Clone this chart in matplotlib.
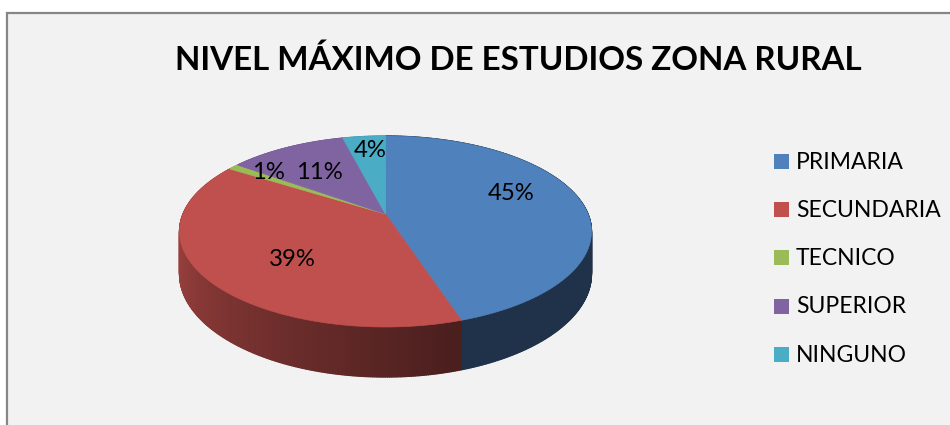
import numpy as np
import matplotlib
matplotlib.use("Agg")
import matplotlib.pyplot as plt
from matplotlib.patches import Polygon, Rectangle
from matplotlib.collections import PolyCollection
from matplotlib.colors import to_rgb

# ---- data ----
title = "NIVEL MÁXIMO DE ESTUDIOS ZONA RURAL"
categories = ["PRIMARIA", "SECUNDARIA", "TECNICO", "SUPERIOR", "NINGUNO"]
values = [45, 39, 1, 11, 4]
labels = ["45%", "39%", "1%", "11%", "4%"]
colors = ["#4F81BD", "#C0504D", "#9BBB59", "#8064A2", "#4BACC6"]

# ---- layout / style ----
W, Hgt = 950, 425
FONT = "Lato"
label_r = [0.69, 0.62, 0.80, 0.61, 0.79]
label_shift = [-11.0, -9.6, 4.0, -1.5, 0.8]

xc, yc = 385.5, 214.0
s_y, s_x, persp, depth = 92.3, 202.5, 0.183, 40.9


def proj(r, phi_deg, z=0.0):
    p = np.radians(phi_deg)
    u = r * np.sin(p)
    v = r * np.cos(p)
    w = 1 + persp * v
    return xc + s_x * u / w, yc - (s_y * v - z) / w


def shade(phi):
    phi = phi % 360
    t = np.clip((phi - 165) / 105.0, 0, 1)
    return 0.39 + 0.47 * t


fig = plt.figure(figsize=(W / 100, Hgt / 100), dpi=100)
fig.patch.set_facecolor("white")
ax = fig.add_axes([0, 0, 1, 1])
ax.set_xlim(0, W)
ax.set_ylim(Hgt, 0)
ax.axis("off")

ax.add_patch(Rectangle((7, 12.5), W + 10, Hgt + 10, facecolor="#F2F2F2",
                       edgecolor="#868686", lw=1.6, zorder=0))

total = float(sum(values))
bounds = np.concatenate([[0], np.cumsum(values)]) / total * 360.0

# side segments
segs = []
for i in range(len(values)):
    a0, a1 = bounds[i], bounds[i + 1]
    n = max(2, int((a1 - a0) / 0.5) + 1)
    ph = np.linspace(a0, a1, n)
    for j in range(n - 1):
        pa, pb = ph[j], ph[j + 1]
        pm = 0.5 * (pa + pb)
        segs.append((np.cos(np.radians(pm)), i, pa, pb, pm))
segs.sort(key=lambda t: -t[0])
verts, cols = [], []
for v, i, pa, pb, pm in segs:
    x1, y1 = proj(1, pa)
    x2, y2 = proj(1, pb)
    x3, y3 = proj(1, pb, depth)
    x4, y4 = proj(1, pa, depth)
    verts.append([[x1, y1], [x2, y2], [x3, y3], [x4, y4]])
    cols.append(np.array(to_rgb(colors[i])) * shade(pm))
ax.add_collection(PolyCollection(verts, facecolors=cols, edgecolors=cols,
                                 linewidths=0.9, zorder=1))

# top faces
for i in range(len(values)):
    a0, a1 = bounds[i], bounds[i + 1]
    ph = np.linspace(a0, a1, max(3, int(a1 - a0) * 2))
    pts = [proj(0, 0)] + [proj(1, p) for p in ph]
    ax.add_patch(Polygon(pts, closed=True, facecolor=colors[i],
                         edgecolor=colors[i], lw=0.5, zorder=2))

fig.canvas.draw()
renderer = fig.canvas.get_renderer()


def fit(txt, target, extra=1.0):
    for _ in range(3):
        wpx = txt.get_window_extent(renderer).width
        txt.set_fontsize(txt.get_fontsize() * target / wpx)
    txt.set_fontsize(txt.get_fontsize() * extra)


# data labels
lab_objs = []
for i in range(len(values)):
    mid = 0.5 * (bounds[i] + bounds[i + 1]) + label_shift[i]
    x, y = proj(label_r[i], mid)
    t = ax.text(x, y, labels[i], ha="center", va="center", fontsize=15,
                family=FONT, color="black", zorder=5)
    lab_objs.append(t)
fit(lab_objs[0], 45, 1.04)
for t in lab_objs[1:]:
    t.set_fontsize(lab_objs[0].get_fontsize())

# title
tt = ax.text(518.5, 70, title, ha="center", va="baseline", fontsize=24,
             family=FONT, fontweight="bold", color="black", zorder=5)
fit(tt, 667, 1.03)

# legend
leg_y0, leg_dy = 161.5, 48.2
leg_objs = []
for i, name in enumerate(categories):
    cy = leg_y0 + i * leg_dy
    ax.add_patch(Rectangle((774, cy - 7.5), 15, 15, facecolor=colors[i],
                           edgecolor="none", zorder=5))
    t = ax.text(796, cy + 7.2, name, ha="left", va="baseline", fontsize=15,
                family=FONT, color="black", zorder=5)
    leg_objs.append(t)
fit(leg_objs[1], 140, 1.03)
for t in leg_objs:
    t.set_fontsize(leg_objs[1].get_fontsize())

fig.savefig("out.png", dpi=100, facecolor=fig.get_facecolor())
